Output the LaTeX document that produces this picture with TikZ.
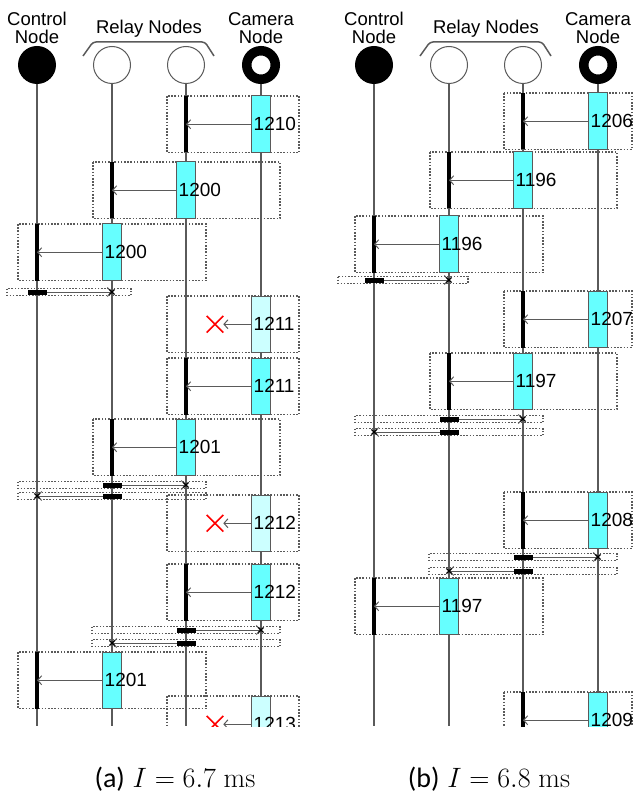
\documentclass[tikz,border=0pt]{standalone}
\usepackage{fix-cm}
\usepackage[no-math]{fontspec}
\setmainfont{Liberation Sans}
\newfontfamily\capfont{Carlito}
\usetikzlibrary{arrows.meta,shapes.misc}

\definecolor{pktcyan}{RGB}{102,255,255}
\definecolor{lostcyan}{RGB}{204,255,255}
\definecolor{linegray}{RGB}{90,90,90}

\begin{document}
\begin{tikzpicture}[x=1pt, y=-1pt,
  every node/.style={font=\fontsize{18.5}{18}\selectfont, inner sep=0pt},
  lifeline/.style={linegray, line width=1.3pt},
  brace/.style={linegray, line width=1.5pt, rounded corners=3pt},
  ctlnode/.style={circle, fill=black, minimum size=38pt},
  relaynode/.style={circle, draw=linegray, line width=1pt, fill=white, minimum size=37pt},
  camnode/.style={circle, draw=black, fill=white, line width=9.5pt, minimum size=28.5pt},
  frame/.style={linegray, line width=1.1pt, dash pattern=on 1.6pt off 1.6pt},
  pkt/.style={draw=linegray, line width=1pt, fill=pktcyan, minimum width=19pt, minimum height=56.5pt},
  lostpkt/.style={pkt, fill=lostcyan},
  lbl/.style={anchor=west, xshift=2.5pt, font=\fontsize{19}{20}\selectfont},
  rxbar/.style={black, line width=4pt},
  txbar/.style={fill=black, minimum width=19pt, minimum height=5pt},
  msg/.style={linegray, line width=1pt, -{Straight Barb[length=4pt,width=9pt]}},
  lost/.style={cross out, draw=red, line width=1.6pt, minimum size=15pt},
  endmark/.style={cross out, draw=black, line width=1.2pt, minimum size=4pt},
  capstyle/.style={font=\fontsize{28}{32}\selectfont}]
\useasboundingbox (0,0) rectangle (633,794);

% heads and lifelines
\foreach \px/\tag in {0/a, 337/b} {
  \begin{scope}[xshift=\px]
    \node[align=center] (hc\tag) at (37,28) {Control\\Node};
    \node (hr\tag) at (149,29) {Relay Nodes};
    \node[align=center] (hk\tag) at (261,28) {Camera\\Node};
    \draw[brace] (83,56) -- (93,42) -- (205,42) -- (214,56);
    \node[ctlnode] (c\tag) at (37,65) {};
    \node[relaynode] (r\tag) at (112,65) {};
    \node[relaynode] (s\tag) at (186,65) {};
    \node[camnode] (k\tag) at (261,65) {};
    \foreach \n/\lx in {c/37, r/112, s/186, k/261}
      \draw[lifeline] (\n\tag.south) -- (\lx,726);
  \end{scope}
}

% (a) I = 6.7 ms
\begin{scope}
  \clip (0,0) rectangle (633,726);
  \def\boxl{7}\def\boxr{299}
  \foreach \sx/\rx/\ty/\lab in {261/186/96/1210, 186/112/162/1200, 112/37/224/1200,
      261/186/358/1211, 186/112/419/1201, 261/186/564/1212, 112/37/652/1201} {
    \draw[frame] (\rx-19,\ty) rectangle ({min(\sx+94,\boxr)},\ty+56.5);
    \draw[rxbar] (\rx,\ty) -- (\rx,\ty+56.5);
    \node[pkt] (p) at (\sx,\ty+28.25) {};
    \coordinate (q) at (\rx,\ty+28.25);
    \draw[msg] (p.west) -- (q);
    \node[lbl] (t) at (p.west) {\lab};
  }
  \foreach \ty/\lab in {296/1211, 495/1212, 696/1213} {
    \draw[frame] (167,\ty) rectangle (\boxr,\ty+56.5);
    \node[lostpkt] (p) at (261,\ty+28.25) {};
    \node[lost] (x) at (215,\ty+28.25) {};
    \draw[msg] (p.west) -- (x.east);
    \node[lbl] (t) at (p.west) {\lab};
  }
  \foreach \sx/\rx/\y in {37/112/292, 112/186/485, 112/37/496, 186/261/630, 186/112/643} {
    \draw[frame] ({max(\sx-94,\boxl)},\y-3.5) rectangle ({min(\sx+94,\boxr)},\y+3.5);
    \coordinate (u) at (\sx,\y);
    \coordinate (v) at (\rx,\y);
    \draw[msg] (u) -- (v);
    \node[txbar] (b) at (u) {};
    \node[endmark] (m) at (v) {};
  }
\end{scope}

% (b) I = 6.8 ms
\begin{scope}[xshift=337]
  \clip (0,0) rectangle (296,726);
  \def\boxl{1}\def\boxr{295}
  \foreach \sx/\rx/\ty/\lab in {261/186/93/1206, 186/112/152/1196, 112/37/216/1196,
      261/186/291/1207, 186/112/353/1197, 261/186/492/1208, 112/37/578/1197, 261/186/692/1209} {
    \draw[frame] (\rx-19,\ty) rectangle ({min(\sx+94,\boxr)},\ty+56.5);
    \draw[rxbar] (\rx,\ty) -- (\rx,\ty+56.5);
    \node[pkt] (p) at (\sx,\ty+28.25) {};
    \coordinate (q) at (\rx,\ty+28.25);
    \draw[msg] (p.west) -- (q);
    \node[lbl] (t) at (p.west) {\lab};
  }
  \foreach \sx/\rx/\y in {37/112/280, 112/186/419, 112/37/432, 186/261/557, 186/112/571} {
    \draw[frame] ({max(\sx-94,\boxl)},\y-3.5) rectangle ({min(\sx+94,\boxr)},\y+3.5);
    \coordinate (u) at (\sx,\y);
    \coordinate (v) at (\rx,\y);
    \draw[msg] (u) -- (v);
    \node[txbar] (b) at (u) {};
    \node[endmark] (m) at (v) {};
  }
\end{scope}

\node[capstyle] (capa) at (175,779) {{\capfont (a)} $I=6.7~\mathrm{ms}$};
\node[capstyle] (capb) at (489,779) {{\capfont (b)} $I=6.8~\mathrm{ms}$};
\end{tikzpicture}
\end{document}
